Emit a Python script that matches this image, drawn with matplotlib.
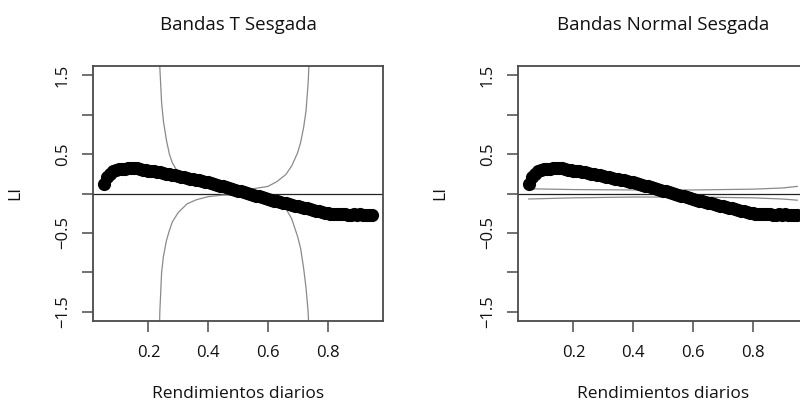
import numpy as np
import matplotlib
matplotlib.use("Agg")
import matplotlib.pyplot as plt

plt.rcParams['font.family'] = ['Open Sans', 'DejaVu Sans']

# Data: LI estimates vs rendimientos diarios (quantile level)
li_x = [0.05, 0.06, 0.07, 0.08, 0.09, 0.10, 0.11, 0.12, 0.13, 0.14, 0.15, 0.16, 0.17, 0.18, 0.19,
        0.20, 0.21, 0.22, 0.23, 0.24, 0.25, 0.26, 0.27, 0.28, 0.29, 0.30, 0.31, 0.32, 0.33, 0.34,
        0.35, 0.36, 0.37, 0.38, 0.39, 0.40, 0.41, 0.42, 0.43, 0.44, 0.45, 0.46, 0.47, 0.48, 0.49,
        0.50, 0.51, 0.52, 0.53, 0.54, 0.55, 0.56, 0.57, 0.58, 0.59, 0.60, 0.61, 0.62, 0.63, 0.64,
        0.65, 0.66, 0.67, 0.68, 0.69, 0.70, 0.71, 0.72, 0.73, 0.74, 0.75, 0.76, 0.77, 0.78, 0.79,
        0.80, 0.81, 0.82, 0.83, 0.84, 0.85, 0.86, 0.87, 0.88, 0.89, 0.90, 0.91, 0.92, 0.93, 0.94, 0.95]
li_y = [0.12, 0.21, 0.25, 0.28, 0.295, 0.305, 0.31, 0.315, 0.318, 0.32, 0.32, 0.318, 0.31, 0.30, 0.295,
        0.29, 0.285, 0.28, 0.275, 0.268, 0.26, 0.253, 0.246, 0.238, 0.23, 0.222, 0.214, 0.206, 0.198, 0.19,
        0.182, 0.174, 0.166, 0.157, 0.149, 0.14, 0.131, 0.121, 0.111, 0.10, 0.089, 0.078, 0.067, 0.056, 0.046,
        0.036, 0.026, 0.015, 0.005, -0.005, -0.016, -0.027, -0.038, -0.049, -0.06, -0.07, -0.08, -0.09, -0.10, -0.109,
        -0.118, -0.127, -0.136, -0.145, -0.154, -0.163, -0.171, -0.18, -0.189, -0.198, -0.207, -0.216, -0.225, -0.234, -0.242,
        -0.25, -0.256, -0.26, -0.262, -0.265, -0.26, -0.265, -0.27, -0.268, -0.265, -0.27, -0.26, -0.27, -0.275, -0.27, -0.272]

# Skewed-T bands
t_band_x = [0.225, 0.232, 0.238, 0.244, 0.25, 0.26, 0.27, 0.28, 0.30, 0.33, 0.36, 0.40, 0.45,
            0.50, 0.55, 0.60, 0.63, 0.66, 0.68, 0.70, 0.71, 0.72, 0.728, 0.735, 0.742, 0.75]
t_band_upper = [5.0, 2.6, 1.6, 1.15, 0.92, 0.68, 0.50, 0.39, 0.26, 0.17, 0.12, 0.09, 0.07,
                0.06, 0.06, 0.09, 0.15, 0.24, 0.35, 0.52, 0.65, 0.84, 1.05, 1.4, 2.0, 3.5]
t_band_lower = [-5.0, -2.6, -1.5, -1.0, -0.80, -0.60, -0.47, -0.36, -0.24, -0.13, -0.08, -0.04, -0.02,
                -0.02, -0.04, -0.07, -0.11, -0.19, -0.32, -0.55, -0.70, -0.95, -1.2, -1.5, -2.1, -3.5]

# Skewed-normal bands
n_band_x = [0.05, 0.2, 0.4, 0.6, 0.8, 0.9, 0.95]
n_band_upper = [0.06, 0.05, 0.045, 0.045, 0.055, 0.07, 0.09]
n_band_lower = [-0.07, -0.055, -0.045, -0.045, -0.055, -0.07, -0.085]

titles = ["Bandas T Sesgada", "Bandas Normal Sesgada"]
xticks = [0.2, 0.4, 0.6, 0.8]
yticks = [-1.5, -1.0, -0.5, 0.0, 0.5, 1.0, 1.5]
ytick_labels = ["\u22121.5", "", "\u22120.5", "", "0.5", "", "1.5"]

W, H = 800, 407
fig = plt.figure(figsize=(W / 100, H / 100), dpi=100)
ax1 = fig.add_axes([93 / W, 86 / H, 290 / W, 255 / H])
ax2 = fig.add_axes([518 / W, 86 / H, 290 / W, 255 / H])

box_col = '#4a4a4a'
txt_col = '#111111'
band_col = '#8a8a8a'

for ax, title in zip([ax1, ax2], titles):
    ax.scatter(li_x, li_y, s=90, color='black', zorder=3, linewidths=0)
    ax.axhline(0, color='#222222', lw=0.9, zorder=2)
    ax.set_xlim(0.014, 0.986)
    ax.set_ylim(-1.62, 1.62)
    ax.set_xticks(xticks)
    ax.set_xticklabels([f"{v:.1f}" for v in xticks])
    ax.set_yticks(yticks)
    ax.set_yticklabels(ytick_labels, rotation=90, va='center')
    ax.tick_params(direction='out', length=8, width=1.1, color=box_col, labelcolor=txt_col,
                   labelsize=12)
    ax.tick_params(axis='x', pad=9)
    ax.tick_params(axis='y', pad=8)
    for sp in ax.spines.values():
        sp.set_color(box_col)
        sp.set_linewidth(1.3)
    ax.set_title(title, fontsize=13.5, color=txt_col, pad=26)
    ax.set_xlabel("Rendimientos diarios", fontsize=12.5, color=txt_col, labelpad=18)
    ax.set_ylabel("LI", fontsize=12.5, color=txt_col, labelpad=23)

ax1.plot(t_band_x, t_band_upper, color=band_col, lw=0.9, zorder=2)
ax1.plot(t_band_x, t_band_lower, color=band_col, lw=0.9, zorder=2)
ax2.plot(n_band_x, n_band_upper, color=band_col, lw=0.9, zorder=2)
ax2.plot(n_band_x, n_band_lower, color=band_col, lw=0.9, zorder=2)

fig.savefig("out.png", dpi=100)
